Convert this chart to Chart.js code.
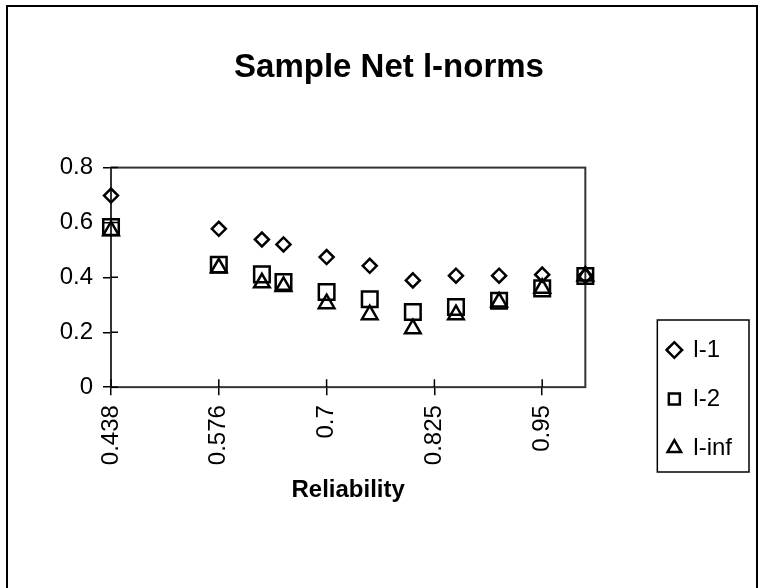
<!DOCTYPE html>
<html>
<head>
<meta charset="utf-8">
<title>Sample Net l-norms</title>
<script src="https://cdn.jsdelivr.net/npm/chart.js@4.4.1/dist/chart.umd.min.js"></script>
<style>
    body { margin: 0; background: #fff; }
    #marco { position: absolute; left: 6px; top: 5px; width: 752px; height: 620px; border: 2px solid #000; box-sizing: border-box; }
    #myChart { position: absolute; left: 0; top: 0; }
</style>
</head>
<body>
<div id="marco"></div>
<canvas id="myChart" width="762" height="588"></canvas>
<script>
// Categorias del eje (Excel: solo se rotula una de cada 5)
const categorias = ['0.438', '', '', '', '', '0.576', '', '', '', '', '0.7', '', '', '', '', '0.825', '', '', '', '', '0.95', '', ''];

// Valores de cada serie (null = sin punto en esa categoria)
const l1   = [0.698, null, null, null, null, 0.577, null, 0.538, 0.52,  null, 0.474, null, 0.442, null, 0.389, null, 0.406, null, 0.406, null, 0.41,  null, 0.405];
const l2   = [0.583, null, null, null, null, 0.446, null, 0.411, 0.383, null, 0.347, null, 0.32,  null, 0.274, null, 0.292, null, 0.315, null, 0.36,  null, 0.405];
const linf = [0.57,  null, null, null, null, 0.435, null, 0.38,  0.367, null, 0.304, null, 0.264, null, 0.213, null, 0.264, null, 0.31,  null, 0.36,  null, 0.405];

const ticksY = [0, 0.2, 0.4, 0.6, 0.8];

Chart.defaults.font.family = "'Liberation Sans', Arial, Helvetica, sans-serif";
Chart.defaults.color = '#000';

// Borde del area de trazado, parte interior de las marcas y recuadro de la leyenda
const marcoPlugin = {
    id: 'marco',
    beforeDatasetsDraw(chart) {
        const { ctx, chartArea: a, scales } = chart;
        ctx.save();
        ctx.strokeStyle = '#333';
        ctx.lineWidth = 2;
        ctx.strokeRect(a.left, a.top, a.right - a.left, a.bottom - a.top);

        ctx.strokeStyle = '#000';
        ctx.lineWidth = 1.5;
        ctx.beginPath();
        scales.y.ticks.forEach((t, i) => {
            const y = scales.y.getPixelForTick(i);
            ctx.moveTo(a.left, y);
            ctx.lineTo(a.left + 7, y);
        });
        scales.x.ticks.forEach((t, i) => {
            const x = scales.x.getPixelForTick(i);
            ctx.moveTo(x, a.bottom);
            ctx.lineTo(x, a.bottom - 8);
        });
        ctx.stroke();
        ctx.restore();
    },
    afterDraw(chart) {
        const cajas = chart.legend.legendHitBoxes;
        if (!cajas || !cajas.length) return;
        const izq = Math.min(...cajas.map(c => c.left)) - 10;
        const der = Math.max(...cajas.map(c => c.left + c.width)) + 17;
        const arriba = cajas[0].top - 18;
        const ultima = cajas[cajas.length - 1];
        const abajo = ultima.top + ultima.height + 12;
        const ctx = chart.ctx;
        ctx.save();
        ctx.strokeStyle = '#000';
        ctx.lineWidth = 1.5;
        ctx.strokeRect(izq, arriba, der - izq, abajo - arriba);
        ctx.restore();
    }
};

const ctx = document.getElementById('myChart').getContext('2d');

const datasets = [
    { label: 'l-1', data: l1, pointStyle: 'rectRot', pointRadius: 7 },
    { label: 'l-2', data: l2, pointStyle: 'rect', pointRadius: 11 },
    { label: 'l-inf', data: linf, pointStyle: 'triangle', pointRadius: 9 }
].map(ds => Object.assign(ds, {
    showLine: false,
    clip: false,
    borderColor: '#000',
    backgroundColor: 'transparent',
    pointBorderColor: '#000',
    pointBackgroundColor: 'transparent',
    pointBorderWidth: 2.5,
    borderWidth: 2.5
}));

const myChart = new Chart(ctx, {
    type: 'line',
    data: { labels: categorias, datasets },
    plugins: [marcoPlugin],
    options: {
        responsive: false,
        animation: false,
        events: [],
        layout: { padding: { left: 36, right: 20, top: 0, bottom: 83 } },
        scales: {
            x: {
                type: 'category',
                offset: false,
                afterBuildTicks: eje => {
                    eje.ticks = eje.ticks.filter(t => categorias[t.value] !== '');
                },
                ticks: { autoSkip: false, minRotation: 90, maxRotation: 90, padding: 10, font: { size: 24 } },
                grid: { drawOnChartArea: false, tickLength: 8, color: '#000', lineWidth: 1.5 },
                border: { display: false },
                title: {
                    display: true,
                    text: 'Reliability',
                    font: { size: 24, weight: 'bold' },
                    padding: { top: 1, bottom: 0 }
                }
            },
            y: {
                min: 0,
                max: 0.8,
                afterFit: eje => { eje.width = 75; },
                afterBuildTicks: eje => {
                    eje.ticks = ticksY.map(v => ({ value: v }));
                },
                ticks: { padding: 10, font: { size: 24 } },
                grid: { drawOnChartArea: false, tickLength: 8, color: '#000', lineWidth: 1.5 },
                border: { display: false }
            },
            // espacio vacio entre el grafico y la leyenda
            hueco: {
                type: 'linear',
                position: 'right',
                grid: { display: false },
                ticks: { display: false },
                border: { display: false },
                afterFit: eje => { eje.width = 57; }
            }
        },
        plugins: {
            title: {
                display: true,
                text: 'Sample Net l-norms',
                font: { size: 33, weight: 'bold' },
                padding: { top: 48, bottom: 80 }
            },
            legend: {
                position: 'right',
                align: 'start',
                title: { display: true, text: '', font: { size: 12 }, padding: { top: 298.6, bottom: 0 } },
                labels: {
                    usePointStyle: true,
                    boxWidth: 14,
                    boxHeight: 11,
                    padding: 25,
                    font: { size: 24 }
                }
            },
            tooltip: { enabled: false }
        }
    }
});
</script>
</body>
</html>
